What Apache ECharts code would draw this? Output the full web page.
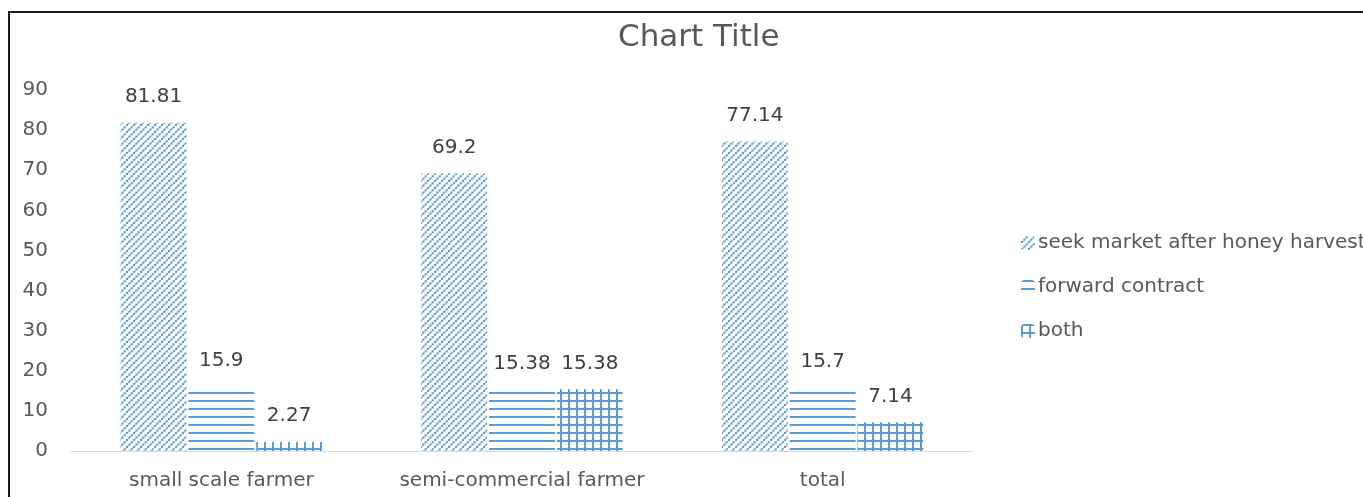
<!DOCTYPE html>
<html>
<head>
<meta charset="utf-8">
<script src="https://cdn.jsdelivr.net/npm/echarts@6/dist/echarts.min.js"></script>
<style>
  html, body { margin: 0; padding: 0; background: #fff; }
  #chart { width: 1363px; height: 497px; }
</style>
</head>
<body>
<div id="chart"></div>
<script>
const categories = ['small scale farmer', 'semi-commercial farmer', 'total'];
const seekMarket = [81.81, 69.2, 77.14];
const forwardContract = [15.9, 15.38, 15.7];
const both = [2.27, 15.38, 7.14];
const seriesNames = ['seek market after honey harvest', 'forward contract', 'both'];
const yTicks = { min: 0, max: 90, interval: 10 };

const BLUE = '#5b9bd5';

// Fill patterns for the three series
function makeTile(w, h, draw) {
  const c = document.createElement('canvas');
  c.width = w; c.height = h;
  const ctx = c.getContext('2d');
  ctx.fillStyle = '#fff';
  ctx.fillRect(0, 0, w, h);
  draw(ctx, w, h);
  return c;
}
// dotted diagonal stripes
const diagonalTile = makeTile(7, 7, (ctx, w, h) => {
  ctx.fillStyle = 'rgba(91,155,213,1)';
  for (let i = 0; i < 3; i++) {
    const t = i * (w / 3);
    ctx.fillRect(t, h - t - 2, 2, 2);
  }
  ctx.fillStyle = 'rgba(91,155,213,0.55)';
  for (let i = 0; i < 3; i++) {
    const t = i * (w / 3) + w / 6;
    ctx.fillRect(t, h - t - 1.6, 1.6, 1.6);
  }
});
const horizontalTile = makeTile(4, 8, (ctx, w) => {
  ctx.fillStyle = BLUE;
  ctx.fillRect(0, 0, w, 2);
});
const gridTile = makeTile(8, 8, (ctx, w, h) => {
  ctx.fillStyle = BLUE;
  ctx.fillRect(0, 0, w, 2);
  ctx.fillRect(0, 0, 2, h);
});

const patterns = [diagonalTile, horizontalTile, gridTile];
const values = [seekMarket, forwardContract, both];

const chart = echarts.init(document.getElementById('chart'));
const labelFont = '"DejaVu Sans", sans-serif';

chart.setOption({
  animation: false,
  backgroundColor: '#fff',
  textStyle: { fontFamily: labelFont },
  title: {
    text: 'Chart Title',
    left: 613,
    top: 17,
    textStyle: { fontSize: 31, fontWeight: 'normal', color: '#595959', fontFamily: labelFont }
  },
  graphic: [{
    type: 'rect',
    shape: { x: 9, y: 12, width: 1400, height: 600 },
    style: { fill: 'none', stroke: '#1a1a1a', lineWidth: 2 },
    silent: true,
    z: 100
  }],
  legend: {
    orient: 'vertical',
    left: 1016,
    top: 228,
    itemWidth: 14,
    itemHeight: 14,
    itemGap: 24,
    textStyle: { fontSize: 20, color: '#595959', fontFamily: labelFont, padding: [0, 0, 0, -2] },
    data: seriesNames
  },
  grid: { left: 71, right: 390, top: 90, bottom: 46, containLabel: false },
  xAxis: {
    type: 'category',
    data: categories,
    axisLine: { lineStyle: { color: '#d9d9d9', width: 1 } },
    axisTick: { show: false },
    axisLabel: { interval: 0, fontSize: 20, color: '#595959', margin: 20, fontFamily: labelFont }
  },
  yAxis: {
    type: 'value',
    min: yTicks.min,
    max: yTicks.max,
    interval: yTicks.interval,
    splitLine: { show: false },
    axisLine: { show: false },
    axisTick: { show: false },
    axisLabel: { fontSize: 20, color: '#595959', margin: 23, fontFamily: labelFont }
  },
  series: seriesNames.map((name, i) => ({
    name,
    type: 'bar',
    data: values[i],
    barGap: '3%',
    barCategoryGap: '33%',
    itemStyle: { color: { image: patterns[i], repeat: 'repeat' } },
    label: {
      show: true,
      position: 'top',
      distance: 16,
      fontSize: 20,
      color: '#404040',
      fontFamily: labelFont
    }
  }))
});
</script>
</body>
</html>
